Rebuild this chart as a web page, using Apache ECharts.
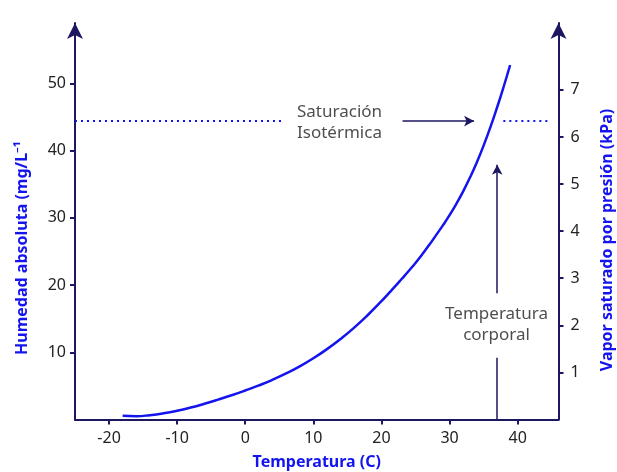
<!DOCTYPE html>
<html>
<head>
<meta charset="utf-8">
<script src="https://cdn.jsdelivr.net/npm/echarts@6/dist/echarts.min.js"></script>
<style>
  html, body { margin: 0; padding: 0; background: #fff; }
  #chart { width: 617px; height: 472px; }
</style>
</head>
<body>
<div id="chart"></div>
<script>
// curva de saturación (humedad absoluta, mg/L)
const temps = [-18, -16, -14, -12, -10, -8, -6, -4, -2, 0, 2, 4, 6, 8, 10, 12, 14, 16, 18, 20,
  21, 22, 23, 24, 25, 26, 27, 28, 29, 30, 31, 32, 33, 34, 35, 36, 37, 38, 38.9];
const humidity = [0.55, 0.5, 0.65, 0.92, 1.3, 1.78, 2.34, 2.95, 3.6, 4.31, 5.07, 5.91, 6.85, 7.91, 9.11, 10.47, 11.99, 13.67, 15.55, 17.6,
  18.7, 19.8, 20.95, 22.1, 23.3, 24.6, 25.95, 27.4, 28.85, 30.4, 32.1, 33.95, 36.0, 38.25, 40.75, 43.5, 46.5, 49.7, 52.75];

const xTicks = [-20, -10, 0, 10, 20, 30, 40];
const leftTicks = [10, 20, 30, 40, 50];
const rightTicks = [1, 2, 3, 4, 5, 6, 7];

// anotaciones
const isoLevel = 44.4;
const isoDotsLeft = [-25, 5.6];
const isoDotsRight = [37.9, 44.6];
const isoArrow = [23.1, 33.6];
const bodyTemp = 37;
const bodyArrow = [18.8, 37.9];
const bodyStem = [0, 9.2];

const navy = '#1c1760';
const blue = '#1414ee';
const fontFam = '"Noto Sans", Lato, sans-serif';

const chart = echarts.init(document.getElementById('chart'));

const tickStyle = { color: navy, width: 2 };
const labelStyle = { color: '#222', fontSize: 16, fontFamily: fontFam };

const option = {
  animation: false,
  grid: { left: 75, right: 58.5, top: 23, bottom: 52.5, outerBoundsMode: 'none' },
  xAxis: {
    type: 'value', min: -25, max: 46,
    name: 'Temperatura (C)', nameLocation: 'middle', nameGap: 35,
    nameTextStyle: { color: blue, fontWeight: 'bold', fontSize: 16, fontFamily: fontFam },
    axisLine: { lineStyle: { color: navy, width: 2 } },
    axisTick: { show: true, length: 5, lineStyle: tickStyle, customValues: xTicks },
    axisLabel: Object.assign({ customValues: xTicks, margin: 11 }, labelStyle),
    splitLine: { show: false }
  },
  yAxis: [
    {
      type: 'value', min: 0, max: 59, position: 'left',
      axisLine: { show: true, onZero: false, symbol: ['none', 'arrow'], symbolSize: [12, 16], lineStyle: { color: navy, width: 2 } },
      axisTick: { show: true, length: 5, lineStyle: tickStyle, customValues: leftTicks },
      axisLabel: Object.assign({ customValues: leftTicks, margin: 9 }, labelStyle),
      splitLine: { show: false }
    },
    {
      type: 'value', min: 0, max: 8.42, position: 'right',
      axisLine: { show: true, onZero: false, symbol: ['none', 'arrow'], symbolSize: [12, 16], lineStyle: { color: navy, width: 2 } },
      axisTick: { show: true, length: 5, lineStyle: tickStyle, customValues: rightTicks },
      axisLabel: Object.assign({ customValues: rightTicks, margin: 12 }, labelStyle),
      splitLine: { show: false }
    }
  ],
  graphic: [
    {
      type: 'text', x: 22, y: 248, rotation: Math.PI / 2,
      style: {
        text: 'Humedad absoluta (mg/L⁻¹', fill: blue, font: 'bold 16px ' + fontFam,
        align: 'center', verticalAlign: 'middle'
      }
    },
    {
      type: 'text', x: 607, y: 240, rotation: Math.PI / 2,
      style: {
        text: 'Vapor saturado por presión (kPa)', fill: blue, font: 'bold 16px ' + fontFam,
        align: 'center', verticalAlign: 'middle'
      }
    }
  ],
  series: [
    {
      type: 'line', smooth: true, showSymbol: false,
      data: temps.map((t, i) => [t, humidity[i]]),
      lineStyle: { color: blue, width: 2.5 }
    },
    {
      type: 'line', showSymbol: false,
      data: isoDotsLeft.map(t => [t, isoLevel]),
      lineStyle: { color: blue, width: 2, type: [2, 4] }
    },
    {
      type: 'line', showSymbol: false,
      data: isoDotsRight.map(t => [t, isoLevel]),
      lineStyle: { color: blue, width: 2, type: [2, 4] }
    },
    {
      type: 'line', showSymbol: false, data: [],
      markLine: {
        silent: true, symbol: ['none', 'arrow'], symbolSize: [8, 10],
        lineStyle: { color: navy, width: 1.5, type: 'solid' },
        label: { show: false },
        data: [
          [{ coord: [isoArrow[0], isoLevel] }, { coord: [isoArrow[1], isoLevel] }],
          [{ coord: [bodyTemp, bodyArrow[0]] }, { coord: [bodyTemp, bodyArrow[1]] }],
          [{ coord: [bodyTemp, bodyStem[0]], symbol: 'none' }, { coord: [bodyTemp, bodyStem[1]], symbol: 'none' }]
        ]
      }
    },
    {
      type: 'scatter', symbolSize: 0, silent: true,
      data: [
        {
          value: [7.6, 44.2],
          label: { show: true, position: 'right', distance: 0, formatter: 'Saturación\nIsotérmica', align: 'left' }
        },
        {
          value: [36.9, 14.1],
          label: { show: true, position: 'inside', formatter: 'Temperatura\ncorporal', align: 'center' }
        }
      ],
      label: { color: '#222', fontSize: 17, lineHeight: 21, fontFamily: fontFam }
    }
  ]
};

chart.setOption(option);
</script>
</body>
</html>
